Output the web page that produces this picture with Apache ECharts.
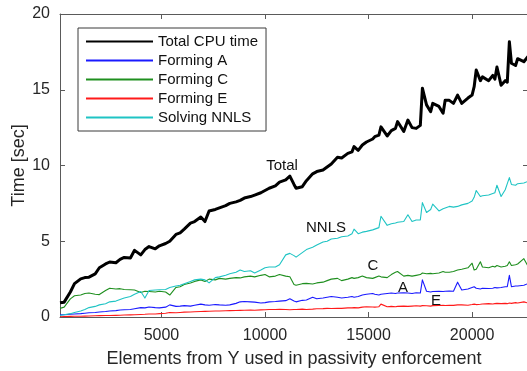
<!DOCTYPE html>
<html>
<head>
<meta charset="utf-8">
<script src="https://cdn.jsdelivr.net/npm/echarts@6/dist/echarts.min.js"></script>
<style>html,body{margin:0;padding:0;background:#fff}#c{width:527px;height:371px}</style>
</head>
<body>
<div id="c"></div>
<script>
const elements = [100,300,600,800,1100,1300,1500,1800,2000,2300,
 2500,2800,3000,3200,3500,3700,4000,4200,4400,4700,
 4900,5200,5400,5700,5900,6100,6400,6600,6900,7100,
 7300,7600,7800,8100,8300,8600,8800,9000,9300,9500,
 9800,10000,10200,10500,10700,11000,11200,11400,11500,11800,
 12000,12300,12500,12800,13000,13200,13500,13700,14000,14200,
 14300,14500,14700,14900,15200,15300,15500,15600,15900,16100,
 16300,16400,16700,16900,17100,17300,17500,17600,17800,18000,
 18100,18400,18600,18700,18900,19100,19300,19500,19800,20000,
 20100,20200,20400,20500,20800,21000,21100,21200,21400,21600,
 21700,21800,21900,22100,22200,22500,22700];

const totalCPU = [0.94,0.98,1.65,2.2,2.52,2.6,2.63,2.85,3.25,3.5,
 3.63,3.58,3.8,3.93,3.9,4.4,4.1,4.45,4.65,4.5,
 4.7,4.85,5.0,5.45,5.55,5.8,6.2,6.3,6.6,6.3,
 7.0,7.1,7.2,7.35,7.5,7.6,7.7,7.85,7.95,8.05,
 8.2,8.35,8.5,8.65,8.9,9.05,9.3,8.75,8.5,8.6,
 9.0,9.45,9.6,9.7,9.9,10.1,10.55,10.5,10.8,10.9,
 11.25,11.0,11.35,11.55,11.75,11.9,12.0,12.55,11.95,12.3,
 12.45,12.9,12.25,13.0,12.5,12.45,12.65,15.1,14.0,13.55,
 14.1,13.9,13.45,14.3,14.3,14.1,14.65,14.1,14.45,14.65,
 15.2,16.3,15.6,15.85,15.6,15.95,15.7,16.5,15.3,15.6,
 15.5,18.17,16.75,16.6,17.05,16.85,17.2];

const formingA = [0.15,0.15,0.18,0.2,0.22,0.25,0.28,0.3,0.33,0.36,
 0.4,0.42,0.46,0.48,0.5,0.55,0.62,0.6,0.66,0.62,
 0.6,0.65,0.8,0.7,0.72,0.75,0.72,0.78,0.85,0.8,
 0.78,0.82,0.8,0.78,0.8,0.9,1.0,1.02,1.0,0.98,
 0.92,0.95,1.0,1.02,1.05,1.08,1.2,1.05,1.0,1.1,
 1.12,1.3,1.2,1.25,1.3,1.35,1.3,1.25,1.3,1.35,
 1.3,1.35,1.45,1.5,1.55,1.5,1.45,1.5,1.55,1.58,
 1.55,1.58,1.6,1.58,1.55,1.6,1.58,2.45,1.7,1.65,
 1.68,1.7,1.68,1.7,1.72,1.7,2.3,1.78,1.85,1.95,
 2.0,1.9,1.85,1.9,1.88,1.9,1.95,1.92,1.95,2.0,
 2.0,2.75,2.0,2.05,2.05,2.1,2.2];

const formingC = [0.57,0.65,1.2,1.4,1.45,1.55,1.58,1.5,1.48,1.75,
 1.9,1.85,1.87,1.82,1.8,1.78,1.62,1.7,1.68,1.65,
 1.7,1.65,1.45,1.95,2.0,2.15,2.25,2.35,2.45,2.35,
 2.5,2.45,2.55,2.5,2.55,2.6,2.58,2.65,2.7,2.65,
 2.75,2.8,2.65,2.7,2.8,2.7,2.66,2.15,2.1,2.2,
 2.22,2.18,2.25,2.3,2.4,2.5,2.55,2.4,2.5,2.6,
 2.55,2.6,2.7,2.6,2.55,2.6,2.7,2.65,2.6,2.8,
 2.95,3.0,2.7,2.75,2.7,2.75,2.8,2.9,2.85,2.88,
 2.85,2.9,3.0,2.95,2.95,3.0,3.1,3.15,3.25,3.55,
 3.1,3.15,3.65,3.3,3.25,3.35,3.3,3.4,3.3,3.35,
 3.4,3.65,3.4,3.45,3.5,3.85,3.35];

const formingE = [0.02,0.03,0.04,0.05,0.05,0.06,0.07,0.08,0.09,0.1,
 0.1,0.11,0.12,0.13,0.14,0.15,0.17,0.18,0.2,0.2,
 0.22,0.25,0.3,0.28,0.3,0.32,0.33,0.35,0.36,0.37,
 0.38,0.4,0.4,0.41,0.42,0.43,0.44,0.45,0.46,0.45,
 0.47,0.48,0.5,0.5,0.51,0.5,0.48,0.5,0.5,0.52,
 0.5,0.52,0.54,0.55,0.57,0.56,0.58,0.57,0.6,0.6,
 0.62,0.6,0.65,0.68,0.66,0.65,0.68,0.85,0.68,0.7,
 0.68,0.7,0.72,0.7,0.72,0.74,0.72,0.75,0.74,0.72,
 0.75,0.76,0.78,0.76,0.78,0.77,0.8,0.8,0.78,0.82,
 0.85,0.82,0.84,0.86,0.88,0.86,0.88,0.9,0.88,0.9,
 0.88,0.92,0.9,0.95,0.92,1.0,0.92];

const solvingNNLS = [0.1,0.15,0.22,0.3,0.4,0.5,0.62,0.7,0.8,0.88,
 1.0,1.05,1.15,1.25,1.35,1.5,1.68,1.25,1.75,1.78,
 1.8,1.82,1.95,2.05,2.1,2.2,2.35,2.45,2.5,2.45,
 2.25,2.6,2.65,2.75,2.85,2.95,3.1,3.0,3.05,2.9,
 3.1,3.25,3.3,3.3,3.45,4.1,4.2,4.05,3.95,4.25,
 4.45,4.6,4.75,4.95,5.0,5.15,5.2,5.3,5.35,5.5,
 5.8,5.5,5.6,5.65,5.75,5.8,5.9,6.65,6.05,6.15,
 6.2,6.25,6.3,6.75,6.3,6.4,6.4,7.55,6.9,7.1,
 7.45,7.0,7.15,7.2,7.3,7.25,7.3,7.4,7.5,7.65,
 7.9,8.35,7.95,8.0,8.05,8.15,8.2,8.7,7.95,8.4,
 8.8,9.2,8.75,8.7,8.8,8.85,8.95];

const seriesNames = ['Total CPU time','Forming A','Forming C','Forming E','Solving NNLS'];
const seriesColors = ['#000000','#1a1aff','#1f8f1f','#ff1a1a','#1fc4c4'];
const xTicks = [5000,10000,15000,20000];
const yTickInterval = 5;

// annotation labels: [text, x, y, series index]
const annotations = [
  ['Total', 10820, 9.97, 0],
  ['NNLS', 12945, 5.9, 4],
  ['C', 15215, 3.4, 2],
  ['A', 16663, 1.95, 1],
  ['E', 18257, 1.09, 3]
];

const FONT = 'Liberation Sans, Arial, sans-serif';
const AX = '#262626';
const AXLINE = '#5a5a5a';
const allValues = [totalCPU, formingA, formingC, formingE, solvingNNLS];

const series = allValues.map((vals, k) => {
  const ann = annotations.filter(a => a[3] === k);
  return {
    name: seriesNames[k],
    type: 'line',
    xAxisIndex: 0, yAxisIndex: 0,
    data: elements.map((x, i) => [x, vals[i]]),
    symbol: 'none',
    showSymbol: false,
    lineStyle: { color: seriesColors[k], width: k === 0 ? 3 : 1.1, join: 'round' },
    itemStyle: { color: seriesColors[k] },
    z: 2 + k,
    markPoint: ann.length ? {
      symbol: 'circle', symbolSize: 0, silent: true, animation: false,
      itemStyle: { color: 'transparent' },
      label: { show: true, position: 'inside', color: '#111', fontFamily: FONT, fontSize: 15,
               formatter: p => p.name },
      data: ann.map(a => ({ name: a[0], coord: [a[1], a[2]] }))
    } : undefined
  };
});

const chart = echarts.init(document.getElementById('c'), null, { renderer: 'canvas' });
chart.setOption({
  animation: false,
  backgroundColor: '#fff',
  grid: { left: 60, right: -1, top: 14, bottom: 54, containLabel: false, outerBoundsMode: 'none' },
  legend: {
    left: 78, top: 28, orient: 'vertical',
    data: seriesNames,
    itemWidth: 67, itemHeight: 14, itemGap: 4,
    padding: [6, 8, 6, 7],
    borderColor: '#3a3a3a', borderWidth: 1, backgroundColor: '#fff',
    itemStyle: { opacity: 0 },
    textStyle: { fontFamily: FONT, fontSize: 15, color: '#111' },
    selectedMode: false,
    z: 20
  },
  xAxis: [{
    type: 'value', min: 100, max: 22700, position: 'bottom',
    name: 'Elements from Y used in passivity enforcement',
    nameLocation: 'middle', nameGap: 33, nameMoveOverlap: false,
    nameTextStyle: { fontFamily: FONT, fontSize: 18, color: AX },
    axisLine: { show: true, onZero: false, lineStyle: { color: AXLINE, width: 1 } },
    axisTick: { show: true, inside: true, length: 5, customValues: xTicks, lineStyle: { color: AXLINE } },
    axisLabel: { show: true, customValues: xTicks, margin: 11, fontFamily: FONT, fontSize: 16, color: AX,
                 formatter: v => String(v) },
    splitLine: { show: false }
  }, {
    type: 'value', min: 100, max: 22700, position: 'top',
    axisLine: { show: true, onZero: false, lineStyle: { color: AXLINE, width: 1 } },
    axisTick: { show: true, inside: true, length: 5, customValues: xTicks, lineStyle: { color: AXLINE } },
    axisLabel: { show: false },
    splitLine: { show: false }
  }],
  yAxis: [{
    type: 'value', min: 0, max: 20, interval: yTickInterval, position: 'left',
    name: 'Time [sec]', nameLocation: 'middle', nameGap: 32, nameMoveOverlap: false,
    nameTextStyle: { fontFamily: FONT, fontSize: 18, color: AX },
    axisLine: { show: true, onZero: false, lineStyle: { color: AXLINE, width: 1 } },
    axisTick: { show: true, inside: true, length: 5, lineStyle: { color: AXLINE } },
    axisLabel: { margin: 10, fontFamily: FONT, fontSize: 16, color: AX },
    splitLine: { show: false }
  }, {
    type: 'value', min: 0, max: 20, interval: yTickInterval, position: 'right',
    axisLine: { show: true, onZero: false, lineStyle: { color: AXLINE, width: 1 } },
    axisTick: { show: true, inside: true, length: 5, lineStyle: { color: AXLINE } },
    axisLabel: { show: false },
    splitLine: { show: false }
  }],
  series: series
});
</script>
</body>
</html>
